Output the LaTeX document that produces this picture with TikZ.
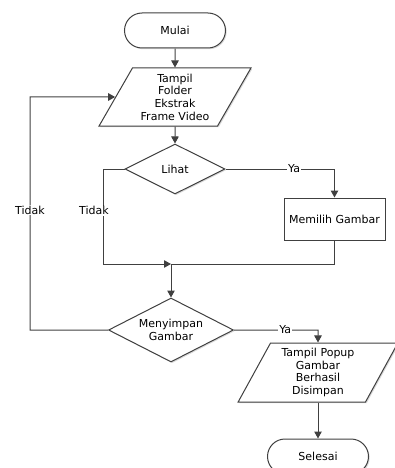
\documentclass[tikz,border=0pt]{standalone}
\usepackage{fontspec}
\setmainfont{DejaVu Sans}
\usetikzlibrary{shapes.geometric,shapes.misc,arrows.meta,shadows}
\definecolor{lc}{HTML}{404040}
\begin{document}
\begin{tikzpicture}[x=1pt,y=-1pt,
  every node/.style={font=\fontsize{11}{12.7}\selectfont, text=black},
  base/.style={draw=lc, line width=1pt, fill=white, inner sep=0pt,
    drop shadow={shadow xshift=1.2pt, shadow yshift=-1.2pt, opacity=0.15, fill=black}},
  term/.style={base, rounded rectangle, minimum width=101pt, minimum height=35pt},
  io/.style={base, trapezium, trapezium stretches=true, align=center},
  dec/.style={base, diamond, shape aspect=2, align=center},
  proc/.style={base, rectangle, minimum width=101pt, minimum height=42pt},
  conn/.style={draw=lc, line width=1pt},
  arr/.style={conn, -{Triangle[length=7pt,width=7.5pt]}},
  lbl/.style={fill=white, inner sep=1pt}
]
\useasboundingbox (0,0) rectangle (395,468);

\node[term] (mulai) at (175,30.5) {Mulai};
\node[io, trapezium left angle=60, trapezium right angle=120,
      minimum width=152pt, minimum height=58pt] (p1) at (175,97)
      {Tampil\\Folder\\Ekstrak\\Frame Video};
\node[dec, minimum width=100pt, minimum height=50pt] (lihat) at (175,169) {Lihat};
\node[proc] (memilih) at (334.5,219) {Memilih Gambar};
\node[dec, minimum width=125pt, minimum height=64pt] (simpan) at (171,330) {Menyimpan\\Gambar};
\node[io, trapezium left angle=63, trapezium right angle=117,
      minimum width=160pt, minimum height=59pt] (p2) at (318,372.5)
      {Tampil Popup\\Gambar\\Berhasil\\Disimpan};
\node[term] (selesai) at (318,456.5) {Selesai};

\coordinate (join) at (171,264);
\coordinate (lt) at (103,169);
\coordinate (lb) at (103,264);
\coordinate (yr) at (334.5,169);
\coordinate (ol) at (30,330);
\coordinate (ot) at (30,97);
\coordinate (yr2) at (318,330);

\draw[arr] (mulai) -- (p1);
\draw[arr] (p1) -- (lihat);
\draw[arr] (lihat.west) -- (lt) -- node[lbl, pos=0.44, xshift=-9pt]{Tidak} (lb) -- (join);
\draw[arr] (lihat.east) -- node[lbl, pos=0.63]{Ya} (yr) -- (memilih.north);
\draw[conn] (memilih.south) |- (join);
\draw[arr] (join) -- (simpan.north);
\draw[arr] (simpan.west) -- (ol) -- node[lbl, pos=0.515]{Tidak} (ot) -- (p1.west);
\draw[arr] (simpan.east) -- node[lbl, pos=0.61]{Ya} (yr2) -- (p2.north);
\draw[arr] (p2) -- (selesai);
\end{tikzpicture}
\end{document}
